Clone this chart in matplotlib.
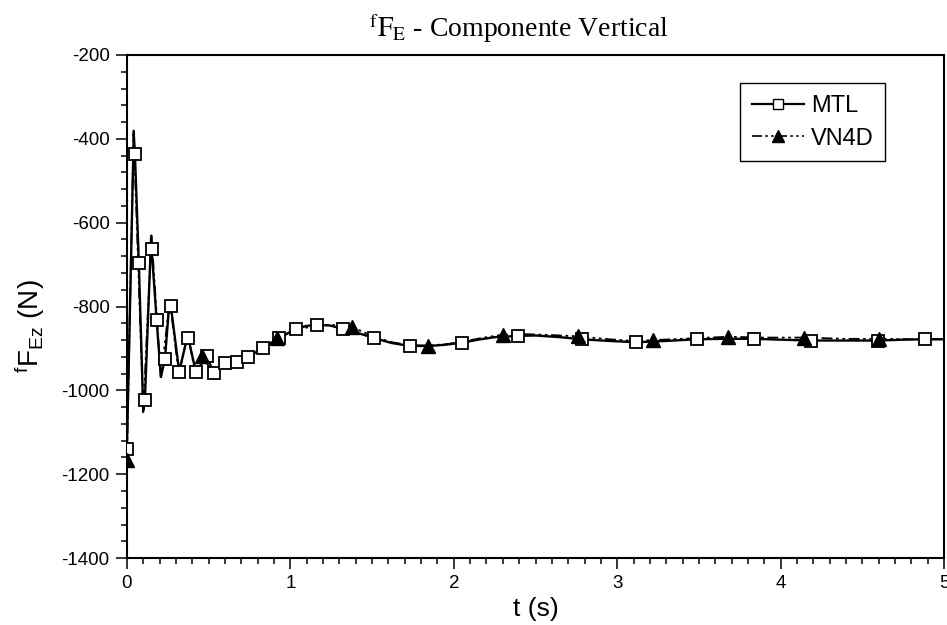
import matplotlib
matplotlib.use("Agg")
import matplotlib.pyplot as plt
from matplotlib.lines import Line2D
from matplotlib.ticker import MultipleLocator

plt.rcParams['font.family'] = ['Liberation Sans', 'DejaVu Sans']
plt.rcParams['mathtext.fontset'] = 'custom'
plt.rcParams['mathtext.rm'] = 'Liberation Sans'
plt.rcParams['mathtext.it'] = 'Liberation Sans:italic'
plt.rcParams['axes.unicode_minus'] = False

# MTL curve (time in s, force in N); marker flags mark the plotted squares
mtl_t = [0.000, 0.042, 0.049, 0.073, 0.100, 0.110, 0.148, 0.151, 0.182, 0.208,
         0.233, 0.260, 0.269, 0.320, 0.372, 0.375, 0.422, 0.488, 0.532, 0.602,
         0.673, 0.743, 0.831, 0.933, 1.033, 1.100, 1.161, 1.240, 1.320, 1.420,
         1.512, 1.620, 1.732, 1.850, 1.950, 2.052, 2.150, 2.250, 2.391, 2.500,
         2.650, 2.783, 2.950, 3.115, 3.300, 3.487, 3.650, 3.837, 4.000, 4.184,
         4.400, 4.598, 4.750, 4.884, 5.000]
mtl_f = [-1139, -388, -435, -696, -1048, -1024, -636, -662, -833, -968,
         -924, -790, -799, -955, -868, -874, -956, -919, -958, -935,
         -932, -920, -899, -875, -853, -846, -844, -845, -853, -864,
         -875, -887, -894, -894, -891, -886, -879, -873, -870, -869,
         -873, -878, -882, -885, -882, -878, -877, -877, -879, -881,
         -881, -881, -879, -878, -878]
mtl_mark = [1, 0, 1, 1, 0, 1, 0, 1, 1, 0,
            1, 0, 1, 1, 0, 1, 1, 1, 1, 1,
            1, 1, 1, 1, 1, 0, 1, 0, 1, 0,
            1, 0, 1, 0, 0, 1, 0, 0, 1, 0,
            0, 1, 0, 1, 0, 1, 0, 1, 0, 1,
            0, 1, 0, 1, 0]

# VN4D curve; triangles every 0.46 s
vn_t = [0.000, 0.041, 0.100, 0.150, 0.208, 0.262, 0.318, 0.372, 0.420, 0.460,
        0.530, 0.578, 0.625, 0.680, 0.745, 0.830, 0.920, 1.030, 1.160, 1.270,
        1.380, 1.510, 1.620, 1.730, 1.840, 1.950, 2.050, 2.170, 2.300, 2.450,
        2.600, 2.760, 2.950, 3.100, 3.220, 3.450, 3.680, 3.900, 4.140, 4.400,
        4.600, 4.800, 5.000]
vn_f = [-1167, -380, -1052, -630, -972, -785, -962, -866, -960, -917,
        -962, -935, -950, -930, -918, -900, -875, -856, -845, -844,
        -849, -872, -885, -892, -893, -890, -884, -875, -867, -866,
        -868, -871, -878, -882, -880, -876, -872, -874, -874, -877,
        -877, -878, -878]
vn_mark = [1, 0, 0, 0, 0, 0, 0, 0, 0, 1,
           0, 0, 0, 0, 0, 0, 1, 0, 0, 0,
           1, 0, 0, 0, 1, 0, 0, 0, 1, 0,
           0, 1, 0, 0, 1, 0, 1, 0, 1, 0,
           1, 0, 0]

dashdotdot = (0, (6, 2, 1.5, 2, 1.5, 2))

fig = plt.figure(figsize=(9.47, 6.25), dpi=100)
ax = fig.add_axes([0.134, 0.107, 0.863, 0.805])

# lines first, then markers on top
ax.plot(mtl_t, mtl_f, color='black', lw=1.7, zorder=2)
ax.plot(vn_t, vn_f, color='black', lw=1.3, ls=dashdotdot, zorder=2.1)

mtl_mi = [i for i, m in enumerate(mtl_mark) if m]
vn_mi = [i for i, m in enumerate(vn_mark) if m]
ax.plot(mtl_t, mtl_f, ls='none', marker='s', ms=8.5, mfc='white', mec='black',
        mew=1.3, markevery=mtl_mi, zorder=3)
ax.plot(vn_t, vn_f, ls='none', marker='^', ms=9.5, mfc='black', mec='black',
        markevery=vn_mi, zorder=4)

ax.set_xlim(0, 5)
ax.set_ylim(-1400, -200)
ax.xaxis.set_major_locator(MultipleLocator(1))
ax.xaxis.set_minor_locator(MultipleLocator(0.1))
ax.yaxis.set_major_locator(MultipleLocator(200))
ax.yaxis.set_minor_locator(MultipleLocator(40))
ax.tick_params(which='both', direction='out', top=False, right=False, width=1.1,
               labelsize=13.5)
ax.tick_params(which='major', length=8, pad=4.5)
ax.tick_params(which='minor', length=4.3)
for s in ax.spines.values():
    s.set_linewidth(1.5)

ax.set_xlabel('t (s)', fontsize=19, labelpad=3)
ax.set_ylabel(r'$^{\mathrm{f}}\mathrm{F}_{\mathrm{Ez}}$ (N)', fontsize=20)
ax.yaxis.set_label_coords(-0.098, 0.461)
ax.set_title(r'$^{\mathrm{f}}\mathrm{F}_{\mathrm{E}}$ - Componente Vertical', x=0.48,
             fontsize=20, family='Liberation Serif', math_fontfamily='stix', pad=13)

handles = [
    Line2D([], [], color='black', lw=1.6, marker='s', ms=6.5, mfc='white', mec='black', mew=1.0),
    Line2D([], [], color='black', lw=1.2, ls=dashdotdot, marker='^', ms=8.5, mfc='black', mec='black'),
]
leg = ax.legend(handles, ['MTL', 'VN4D'], loc='upper right', bbox_to_anchor=(0.928, 0.944),
                borderaxespad=0, fontsize=17, handlelength=2.2, handletextpad=0.3,
                labelspacing=0.45, fancybox=False, framealpha=1, edgecolor='black',
                borderpad=0.5)
leg.get_frame().set_linewidth(1.0)

fig.savefig('out.png', dpi=100)
